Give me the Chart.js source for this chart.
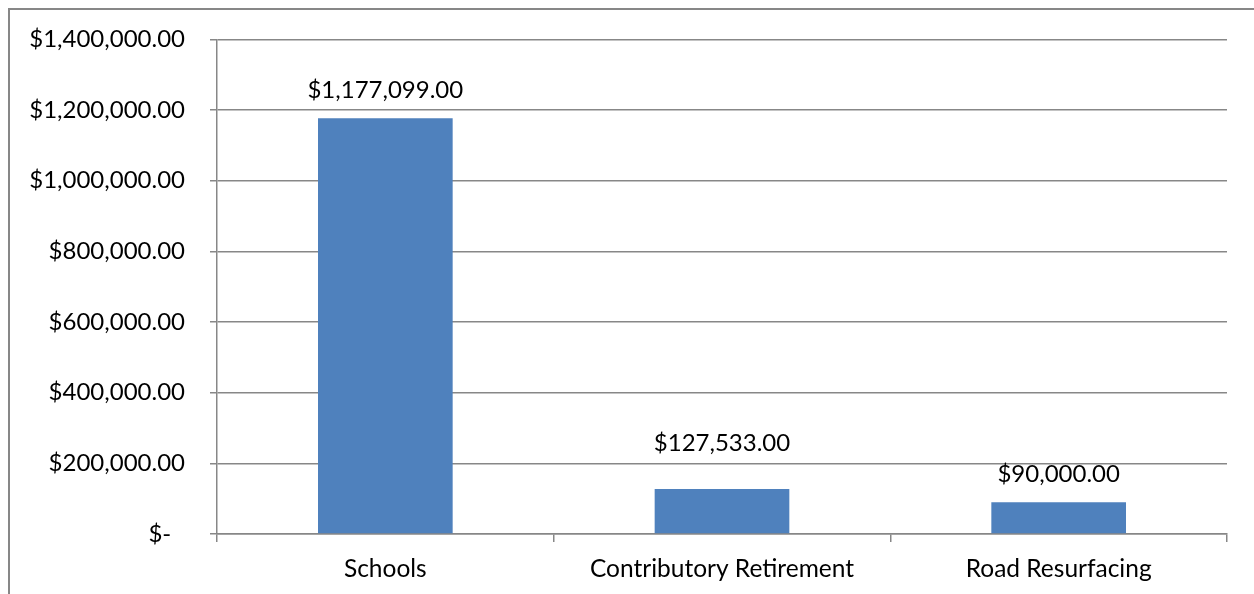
<!DOCTYPE html>
<html>
<head>
<meta charset="utf-8">
<script src="https://cdn.jsdelivr.net/npm/chart.js@4/dist/chart.umd.min.js"></script>
<style>
  html, body { margin: 0; padding: 0; background: #fff; }
  #wrap { position: relative; width: 1254px; height: 594px; overflow: hidden; }
  #frame { position: absolute; left: 8px; top: 8px; right: -10px; bottom: -10px;
           border-left: 2px solid #878787; border-top: 2px solid #878787; }
  canvas { position: absolute; left: 0; top: 0; }
</style>
</head>
<body>
<div id="wrap">
  <div id="frame"></div>
  <canvas id="c" width="1254" height="594"></canvas>
</div>
<script>
const categories = ["Schools", "Contributory Retirement", "Road Resurfacing"];
const amounts = [1177099, 127533, 90000];
const yTicks = [0, 200000, 400000, 600000, 800000, 1000000, 1200000, 1400000];

const labelLift = [0, 18, 0];
const FONT = "Lato";

function money(v) {
  if (v === 0) return "$-  \u200A";
  return "$" + v.toLocaleString("en-US", { minimumFractionDigits: 2, maximumFractionDigits: 2 });
}

const valueLabels = {
  id: "valueLabels",
  afterDatasetsDraw(chart) {
    const ctx = chart.ctx;
    const meta = chart.getDatasetMeta(0);
    ctx.save();
    ctx.font = "24px " + FONT;
    ctx.fillStyle = "#000";
    ctx.textAlign = "center";
    ctx.textBaseline = "alphabetic";
    meta.data.forEach((bar, i) => {
      ctx.fillText(money(amounts[i]), bar.x, bar.y - 20 - labelLift[i]);
    });
    ctx.restore();
  }
};

Chart.defaults.font.family = FONT;
Chart.defaults.font.size = 24;
Chart.defaults.color = "#000";

new Chart(document.getElementById("c"), {
  type: "bar",
  data: {
    labels: categories,
    datasets: [{
      data: amounts,
      backgroundColor: "#4F81BD",
      borderWidth: 0,
      barPercentage: 0.4,
      categoryPercentage: 1.0
    }]
  },
  options: {
    responsive: false,
    animation: false,
    events: [],
    layout: { padding: { top: 38, right: 27, left: 0, bottom: 0 } },
    plugins: { legend: { display: false }, tooltip: { enabled: false } },
    scales: {
      x: {
        grid: { drawOnChartArea: false, drawTicks: true, tickLength: 8, color: "#878787", lineWidth: 1.5, offset: true },
        border: { color: "#878787", width: 1.5 },
        ticks: { padding: 12, font: { size: 24.5, family: FONT }, color: "#000", maxRotation: 0 },
        afterFit(s) { s.height = 60; }
      },
      y: {
        min: 0, max: 1400000,
        afterBuildTicks(s) { s.ticks = yTicks.map(v => ({ value: v })); },
        grid: { color: "#878787", lineWidth: 1.5, drawTicks: true, tickLength: 7 },
        border: { color: "#878787", width: 1.5 },
        ticks: { padding: 25, callback: v => money(v), font: { size: 24, family: FONT }, color: "#000" },
        afterFit(s) { s.width = 217; }
      }
    }
  },
  plugins: [valueLabels]
});
</script>
</body>
</html>
